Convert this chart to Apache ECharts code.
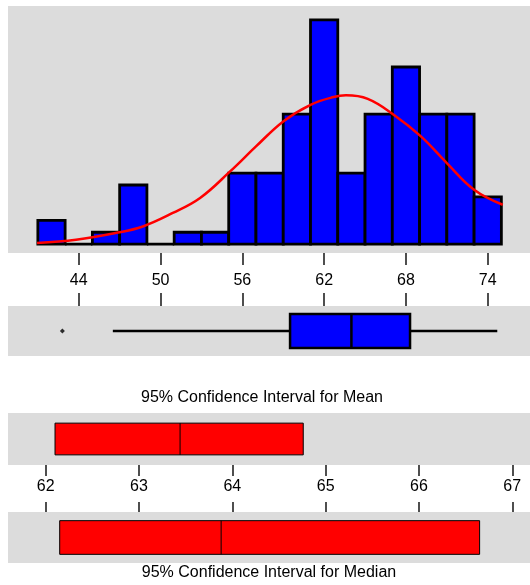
<!DOCTYPE html>
<html><head><meta charset="utf-8">
<script src="https://cdn.jsdelivr.net/npm/echarts@6/dist/echarts.min.js"></script>
<style>html,body{margin:0;padding:0;background:#fff}#c{width:530px;height:585px}</style>
</head><body><div id="c"></div><script>
// ---- data ----
const binEdges = [41,43,45,47,49,51,53,55,57,59,61,63,65,67,69,71,73,75];
const binCounts = [2,0,1,5,0,1,1,6,6,11,19,6,11,15,11,11,4];
const curveX = [40.94,43.8,46.7,48.7,50.9,52.9,55.1,57.0,59.0,61.0,62.7,63.6,65.2,67.1,69.1,71.0,73.0,75.1];
const curveY = [0.08,0.36,0.93,1.49,2.63,3.9,6.15,8.27,10.39,11.8,12.46,12.6,12.3,10.96,9.12,6.86,4.6,3.33];
const boxStats = [46.5, 59.5, 64.0, 68.3, 74.7]; // whisker low, Q1, median, Q3, whisker high
const outliers = [42.8];
const histTicks = [44,50,56,62,68,74];
const meanCI = [62.10, 63.44, 64.76];   // low, mean, high
const medianCI = [62.15, 63.88, 66.65]; // low, median, high
const ciTicks = [62,63,64,65,66,67];
const meanTitle = '95% Confidence Interval for Mean';
const medianTitle = '95% Confidence Interval for Median';

const FONT = 'Liberation Sans, Arial, sans-serif';
const GRAY = '#dcdcdc';
const chart = echarts.init(document.getElementById('c'), null, {renderer:'canvas'});

function gridBg(top, height){
  return {left:8, top:top, width:522, height:height, show:true, backgroundColor:GRAY, borderWidth:0, containLabel:false};
}
function xAx(grid, min, max, pos, ticks, len, labels, margin){
  return {type:'value', gridIndex:grid, min:min, max:max, position:pos,
    axisLine:{show:false, onZero:false}, splitLine:{show:false},
    axisTick:{show:true, customValues:ticks, length:len, lineStyle:{color:'#222', width:1.6}},
    axisLabel:{show:labels, customValues:ticks, margin:margin||0, fontSize:16, color:'#000', fontFamily:FONT}};
}

function ciRender(hFrac, lw){
  return function(params, api){
    const lo = api.coord([api.value(0), 0.5]);
    const mid = api.coord([api.value(1), 0.5]);
    const hi = api.coord([api.value(2), 0.5]);
    const h = api.size([0, hFrac])[1];
    return {type:'group', children:[
      {type:'rect', shape:{x:lo[0], y:lo[1]-h/2, width:hi[0]-lo[0], height:h},
        style:{fill:'#ff0000', stroke:'#000', lineWidth:lw}},
      {type:'line', shape:{x1:mid[0], y1:lo[1]-h/2, x2:mid[0], y2:lo[1]+h/2},
        style:{stroke:'#000', lineWidth:lw}}
    ]};
  };
}

const option = {
  animation:false,
  backgroundColor:'#ffffff',
  grid:[gridBg(6,247), gridBg(306,50), gridBg(413,52), gridBg(512,51)],
  xAxis:[
    xAx(0, 38.81, 77.1, 'bottom', histTicks, 12, true, 20),
    xAx(1, 38.81, 77.1, 'top', histTicks, 13, false),
    xAx(2, 61.596, 67.19, 'bottom', ciTicks, 11, true, 14),
    xAx(3, 61.596, 67.19, 'top', ciTicks, 10, false)
  ],
  yAxis:[
    {type:'value', gridIndex:0, min:-0.76, max:20.17, show:false},
    {type:'value', gridIndex:1, min:0, max:1, show:false},
    {type:'value', gridIndex:2, min:0, max:1, show:false},
    {type:'value', gridIndex:3, min:0, max:1, show:false}
  ],
  graphic:[
    {type:'text', x:262, y:398, style:{text:meanTitle, font:'16px '+FONT, fill:'#000', align:'center', verticalAlign:'middle'}},
    {type:'text', x:269, y:573, style:{text:medianTitle, font:'16px '+FONT, fill:'#000', align:'center', verticalAlign:'middle'}}
  ],
  series:[
    {type:'custom', xAxisIndex:0, yAxisIndex:0, z:2,
      data: binCounts.map((c,i)=>[binEdges[i], binEdges[i+1], c]),
      renderItem:function(params, api){
        const p0 = api.coord([api.value(0), 0]);
        const p1 = api.coord([api.value(1), api.value(2)]);
        return {type:'rect', shape:{x:p0[0], y:p1[1], width:p1[0]-p0[0], height:p0[1]-p1[1]},
          style:{fill:'#0000ff', stroke:'#000', lineWidth:2.8}};
      }},
    {type:'line', xAxisIndex:0, yAxisIndex:0, z:5, smooth:0.4, showSymbol:false,
      data: curveX.map((x,i)=>[x, curveY[i]]),
      lineStyle:{color:'#ff0000', width:2.5}},
    {type:'custom', xAxisIndex:1, yAxisIndex:1, z:2,
      data:[boxStats],
      renderItem:function(params, api){
        const wl = api.coord([api.value(0), 0.5]);
        const q1 = api.coord([api.value(1), 0.5]);
        const md = api.coord([api.value(2), 0.5]);
        const q3 = api.coord([api.value(3), 0.5]);
        const wh = api.coord([api.value(4), 0.5]);
        const h = api.size([0, 0.68])[1];
        const st = {stroke:'#000', lineWidth:2.5};
        return {type:'group', children:[
          {type:'line', shape:{x1:wl[0], y1:wl[1], x2:q1[0], y2:q1[1]}, style:st},
          {type:'line', shape:{x1:q3[0], y1:q3[1], x2:wh[0], y2:wh[1]}, style:st},
          {type:'rect', shape:{x:q1[0], y:q1[1]-h/2, width:q3[0]-q1[0], height:h}, style:{fill:'#0000ff', stroke:'#000', lineWidth:2.5}},
          {type:'line', shape:{x1:md[0], y1:md[1]-h/2, x2:md[0], y2:md[1]+h/2}, style:st}
        ]};
      }},
    {type:'scatter', xAxisIndex:1, yAxisIndex:1, symbol:'diamond', symbolSize:5,
      itemStyle:{color:'#000'}, data: outliers.map(v=>[v,0.5])},
    {type:'custom', xAxisIndex:2, yAxisIndex:2, data:[meanCI], renderItem:ciRender(0.61, 1)},
    {type:'custom', xAxisIndex:3, yAxisIndex:3, data:[medianCI], renderItem:ciRender(0.66, 1)}
  ]
};
chart.setOption(option);
</script></body></html>
